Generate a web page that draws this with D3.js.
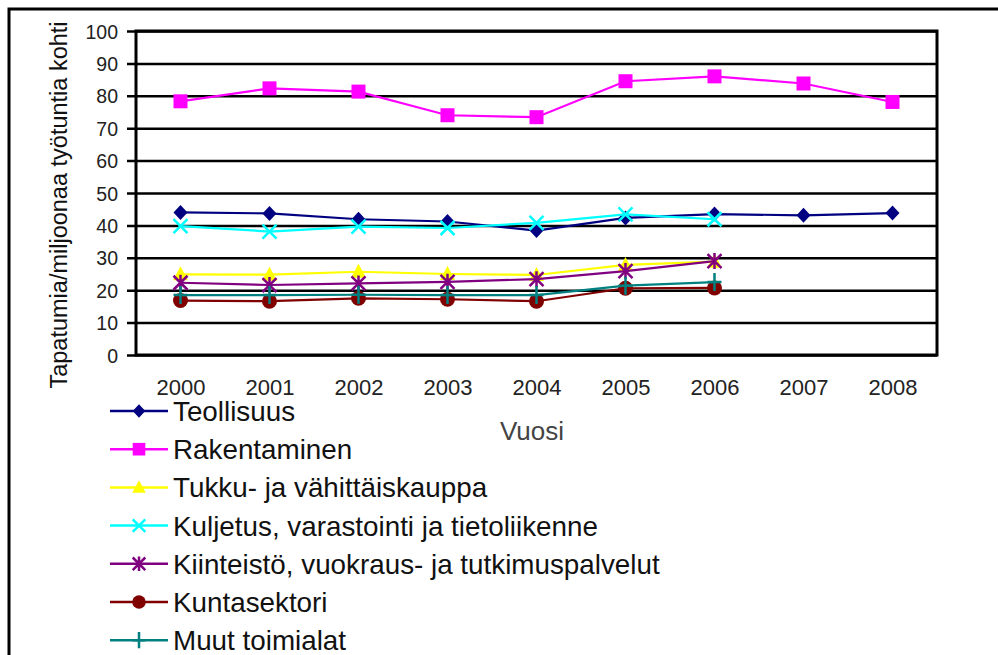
<!DOCTYPE html>
<html><head><meta charset="utf-8">
<script src="https://cdn.jsdelivr.net/npm/d3@7"></script>
<style>body{margin:0;background:#fff;}svg{display:block;font-family:"Liberation Sans",Arial,sans-serif;}</style>
</head><body>
<svg id="c" width="998" height="655"></svg>
<script>
const years = ["2000","2001","2002","2003","2004","2005","2006","2007","2008"];
const yTicks = [0,10,20,30,40,50,60,70,80,90,100];
const seriesNames = ["Teollisuus","Rakentaminen","Tukku- ja vähittäiskauppa","Kuljetus, varastointi ja tietoliikenne","Kiinteistö, vuokraus- ja tutkimuspalvelut","Kuntasektori","Muut toimialat"];
const teollisuus   = [44.0, 43.7, 41.9, 41.2, 38.4, 42.3, 43.5, 43.1, 43.8];
const rakentaminen = [78.3, 82.3, 81.3, 74.0, 73.4, 84.5, 86.0, 83.8, 78.1];
const tukku        = [24.9, 24.8, 25.7, 25.0, 24.7, 27.8, 28.8, null, null];
const kuljetus     = [39.8, 38.1, 39.6, 39.2, 40.8, 43.4, 41.9, null, null];
const kiinteisto   = [22.3, 21.6, 22.1, 22.6, 23.4, 25.9, 29.0, null, null];
const kuntasektori = [16.8, 16.6, 17.5, 17.2, 16.6, 20.6, 20.7, null, null];
const muut         = [18.5, 18.5, 18.6, 18.5, 18.5, 21.4, 22.5, null, null];
const seriesValues = [teollisuus, rakentaminen, tukku, kuljetus, kiinteisto, kuntasektori, muut];
const colors = ["#000080","#FF00FF","#FFFF00","#00FFFF","#800080","#800000","#008080"];
const markers = ["diamond","square","triangle","x","star","circle","plus"];
const yTitle = "Tapatumia/miljoonaa työtuntia kohti";
const xTitle = "Vuosi";

const svg = d3.select("#c");
const L = 136, R = 937, T = 31, B = 355;
const x = d3.scalePoint().domain(years).range([L, R]).padding(0.5);
const y = d3.scaleLinear().domain([0, 100]).range([B, T]);

// outer frame
svg.append("path").attr("d", `M9,655 L9,9 L998,9`).attr("fill","none").attr("stroke","#000").attr("stroke-width",3);

// gridlines
const yAxis = d3.axisLeft(y).tickValues(yTicks).tickSize(-(R - L)).tickSizeOuter(0).tickPadding(0);
const gy = svg.append("g").attr("transform", `translate(${L},0)`).call(yAxis);
gy.select(".domain").remove();
gy.selectAll(".tick line").attr("stroke","#000").attr("stroke-width",2.5).attr("x1",-9);
gy.selectAll(".tick text").attr("x",-18).attr("dy","0.36em").attr("font-size",19.5).attr("fill","#222");

// plot border
svg.append("rect").attr("x",L).attr("y",T).attr("width",R-L).attr("height",B-T)
  .attr("fill","none").attr("stroke","#000").attr("stroke-width",3);

// x axis labels
const xAxis = d3.axisBottom(x).tickSize(0).tickPadding(0);
const gx = svg.append("g").attr("transform", `translate(0,${B})`).call(xAxis);
gx.select(".domain").remove();
gx.selectAll(".tick text").attr("y",40).attr("dy",null).attr("font-size",22).attr("fill","#222");

svg.append("text").attr("x",532).attr("y",440).attr("text-anchor","middle").attr("font-size",26).attr("fill","#444").text(xTitle);
svg.append("text").attr("transform","translate(67,205) rotate(-90)").attr("text-anchor","middle")
  .attr("font-size",23.5).attr("fill","#111").text(yTitle);

function drawMarker(g, type, color, s) {
  s = s || 1;
  if (type === "diamond") g.append("path").attr("d",`M0,${-7.5*s}L${7*s},0L0,${7.5*s}L${-7*s},0Z`).attr("fill",color);
  else if (type === "square") g.append("rect").attr("x",-7*s).attr("y",-7*s).attr("width",14*s).attr("height",14*s).attr("fill",color);
  else if (type === "triangle") g.append("path").attr("d",`M0,${-8*s}L${7.5*s},${6*s}L${-7.5*s},${6*s}Z`).attr("fill",color);
  else if (type === "circle") g.append("circle").attr("r",7.5*s).attr("fill",color);
  else if (type === "x") g.append("path").attr("d",`M${-7*s},${-7*s}L${7*s},${7*s}M${-7*s},${7*s}L${7*s},${-7*s}`).attr("stroke",color).attr("stroke-width",2.5).attr("fill","none");
  else if (type === "star") g.append("path").attr("d",`M${-7*s},${-7*s}L${7*s},${7*s}M${-7*s},${7*s}L${7*s},${-7*s}M0,${-8*s}L0,${8*s}`).attr("stroke",color).attr("stroke-width",2.5).attr("fill","none");
  else if (type === "plus") g.append("path").attr("d",`M0,${-9*s}L0,${9*s}M${-7*s},0L${7*s},0`).attr("stroke",color).attr("stroke-width",2.5).attr("fill","none");
}

const line = d3.line().defined(d => d.v != null).x(d => x(d.yr)).y(d => y(d.v));
seriesValues.forEach((vals, i) => {
  const data = years.map((yr, j) => ({yr, v: vals[j]}));
  svg.append("path").datum(data).attr("d", line).attr("fill","none").attr("stroke",colors[i]).attr("stroke-width",2.2);
  data.filter(d => d.v != null).forEach(d => {
    const g = svg.append("g").attr("transform", `translate(${x(d.yr)},${y(d.v)})`);
    drawMarker(g, markers[i], colors[i]);
  });
});

// legend
const legY0 = 411, legStep = 38.2;
seriesNames.forEach((name, i) => {
  const gy0 = legY0 + i * legStep;
  const g = svg.append("g").attr("transform", `translate(0,${gy0})`);
  g.append("line").attr("x1",110).attr("x2",168).attr("y1",0).attr("y2",0).attr("stroke",colors[i]).attr("stroke-width",2.5);
  const mg = g.append("g").attr("transform","translate(139,0)");
  drawMarker(mg, markers[i], colors[i], 0.9);
  g.append("text").attr("x",173).attr("y",0).attr("dy","0.36em").attr("font-size",27.8).attr("fill","#111").text(name);
});
</script>
</body></html>
